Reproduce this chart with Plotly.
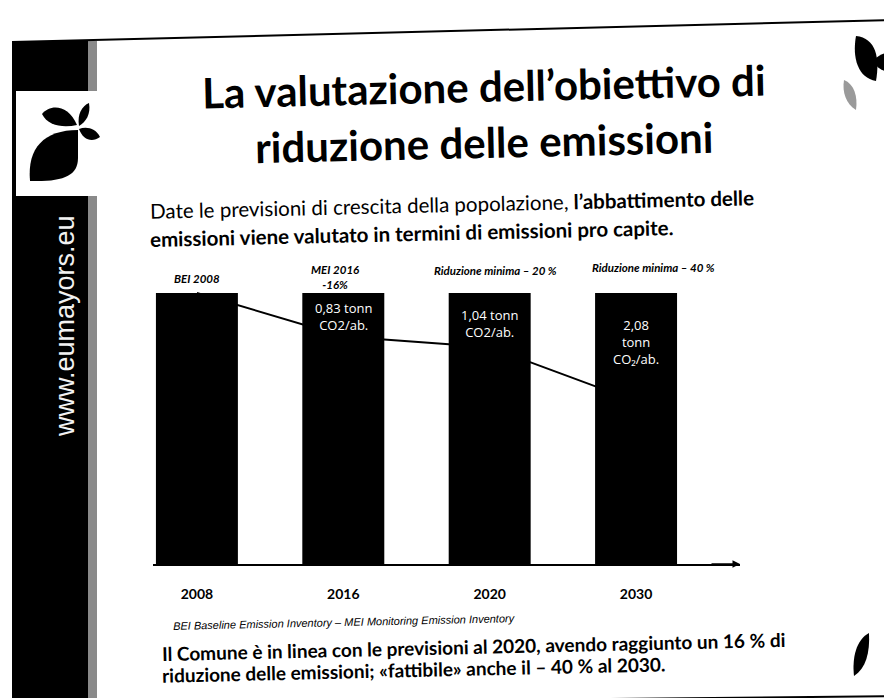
import plotly.graph_objects as go

# ---------------- data ----------------
categories = ["2008", "2016", "2020", "2030"]
bar_heights = [100, 100, 100, 100]          # all bars drawn at the same height
trend_index = [100, 84, 80, 60]             # per-capita emission trend (2008 = 100)
bar_headers = ["BEI 2008", "MEI 2016<br>-16%", "Riduzione minima – 20 %", "Riduzione minima – 40 %"]
bar_notes = ["", "0,83 tonn<br>CO2/ab.", "1,04 tonn<br>CO2/ab.", "2,08<br>tonn<br>CO₂/ab."]

# ---------------- geometry helpers ----------------
FW, FH = 892, 698
L, R, T, B = 145, 160, 210, 142
PW, PH = FW - L - R, FH - T - B
YMAX = 127.7
TILT = -1.3


def px(x, y):
    """pixel position on the page -> paper coords"""
    return (x - L) / PW, (FH - B - y) / PH


def pyv(y):
    return (FH - B - y) / PH * YMAX


fig = go.Figure()
fig.add_trace(go.Bar(x=categories, y=bar_heights, marker=dict(color="black", line=dict(width=0)),
                     width=0.56, hoverinfo="skip", showlegend=False))
fig.add_trace(go.Scatter(x=categories, y=trend_index, mode="lines",
                         line=dict(color="black", width=2), showlegend=False, hoverinfo="skip"))

ann = []


def text(x, y, s, size, color="black", family="Lato", weight="normal", style="normal",
         xanchor="center", yanchor="middle", align="center", angle=0):
    xp, yp = px(x, y)
    ann.append(dict(x=xp, y=yp, xref="paper", yref="paper", text=s, showarrow=False,
                    xanchor=xanchor, yanchor=yanchor, align=align, textangle=angle,
                    font=dict(size=size, color=color, family=family, weight=weight, style=style)))


# title
text(476, 78, "La valutazione dell’obiettivo di", 42, weight="bold", angle=TILT)
text(476, 134, "riduzione delle emissioni", 42, weight="bold", angle=TILT)
# subtitle
text(140, 196, "Date le previsioni di crescita della popolazione, <b>l’abbattimento delle</b>", 20.5,
     xanchor="left", align="left", angle=TILT)
text(140, 225, "<b>emissioni viene valutato in termini di emissioni pro capite.</b>", 20.5,
     xanchor="left", align="left", angle=TILT)

# headers above bars
hdr_y = [262, 253, 254, 251]
hdr_dx = [0, -8, 6, 17]
for i, (h, yy, dx) in enumerate(zip(bar_headers, hdr_y, hdr_dx)):
    ann.append(dict(x=i, xref="x", y=px(0, yy)[1], yref="paper", text=h, showarrow=False,
                    xshift=dx, font=dict(size=11.5, family="Lato", weight="bold", style="italic",
                                         color="black")))

# notes inside bars
note_top = [0, 289, 296, 306]
for i, (n, yy) in enumerate(zip(bar_notes, note_top)):
    if n:
        ann.append(dict(x=i, xref="x", y=pyv(yy), yref="y", text=n, showarrow=False,
                        yanchor="top", font=dict(size=13, family="Open Sans", color="white")))

# axis arrow
ann.append(dict(x=3.71, y=0, xref="x", yref="y", ax=-30, ay=0, showarrow=True, arrowhead=2,
                arrowsize=1, arrowwidth=1.5, arrowcolor="black", text=""))

# footnotes
text(163, 614, "BEI Baseline Emission Inventory – MEI Monitoring Emission Inventory", 11,
     family="Liberation Sans", style="italic", xanchor="left", align="left", angle=TILT)
text(152, 638, "<b>Il Comune è in linea con le previsioni al 2020, avendo raggiunto un 16 % di</b>", 19,
     xanchor="left", align="left", angle=TILT)
text(152, 661, "<b>riduzione delle emissioni; «fattibile» anche il – 40 % al 2030.</b>", 19,
     xanchor="left", align="left", angle=TILT)

# side url
text(57, 318, "www.eumayors.eu", 27, color="#f2f2f2", family="Liberation Sans", angle=-90)

shapes = []


def rect(x0, y0, x1, y1, color, layer="below"):
    a = px(x0, y0)
    b = px(x1, y1)
    shapes.append(dict(type="rect", xref="paper", yref="paper", x0=a[0], y0=a[1], x1=b[0], y1=b[1],
                       fillcolor=color, line=dict(width=0), layer=layer))


def line(x0, y0, x1, y1, width=2, color="black"):
    a = px(x0, y0)
    b = px(x1, y1)
    shapes.append(dict(type="line", xref="paper", yref="paper", x0=a[0], y0=a[1], x1=b[0], y1=b[1],
                       line=dict(color=color, width=width), layer="above"))


def path(pts_cmd, color="black", lw=0, lc="black"):
    s = ""
    for cmd, pts in pts_cmd:
        s += cmd
        s += " ".join("%.5f,%.5f" % px(x, y) for x, y in pts) + " "
    shapes.append(dict(type="path", xref="paper", yref="paper", path=s.strip(),
                       fillcolor=color, line=dict(width=lw, color=lc), layer="above"))


# left band
rect(4, 33, 80, 698, "black")
rect(80, 33, 89, 698, "#8a8a8a")
# logo box
rect(8, 83, 90, 188, "white", layer="above")
path([("M", [(22, 173)]), ("C", [(19, 140), (36, 122), (70, 122)]), ("L", [(70, 150)]),
      ("C", [(70, 168), (55, 174), (22, 173)]), ("Z", [])])
path([("M", [(34, 106)]), ("C", [(42, 96), (60, 96), (69, 117)]), ("C", [(55, 120), (40, 118), (34, 106)]),
      ("Z", [])])
path([("M", [(71, 118)]), ("C", [(69, 106), (74, 98), (81, 95)]), ("C", [(83, 106), (78, 114), (71, 118)]),
      ("Z", [])])
path([("M", [(71, 121)]), ("C", [(78, 118), (88, 120), (92, 129)]), ("C", [(84, 135), (75, 132), (71, 121)]),
      ("Z", [])])

# frame lines
line(4, 34, 887, 12, width=2)
line(887, 12, 887, 180, width=2)
line(205, 695, 892, 688, width=2)

# right top logo
path([("M", [(848, 28)]), ("C", [(868, 30), (872, 50), (868, 73)]), ("C", [(850, 70), (844, 50), (848, 28)]),
      ("Z", [])])
path([("M", [(866, 52)]), ("C", [(873, 44), (884, 43), (887, 46)]), ("L", [(887, 62)]),
      ("C", [(880, 66), (871, 62), (866, 55)]), ("Z", [])])
path([("M", [(836, 72)]), ("C", [(846, 76), (850, 88), (848, 102)]), ("C", [(838, 96), (834, 84), (836, 72)]),
      ("Z", [])], color="#9a9a9a")
# right bottom marks
path([("M", [(861, 625)]), ("C", [(848, 632), (844, 650), (846, 668)]), ("C", [(858, 660), (862, 645), (861, 625)]),
      ("Z", [])])
path([("M", [(881, 576)]), ("L", [(885, 576), (885, 600)]), ("C", [(886, 605), (890, 606), (892, 604)]),
      ("L", [(892, 612)]), ("C", [(885, 613), (881, 608), (881, 600)]), ("Z", [])])

fig.update_layout(
    width=FW, height=FH, margin=dict(l=L, r=R, t=T, b=B),
    paper_bgcolor="white", plot_bgcolor="white",
    annotations=ann, shapes=shapes, showlegend=False,
    xaxis=dict(type="category", range=[-0.3, 3.71], showgrid=False, zeroline=False,
               showline=True, linecolor="black", linewidth=1.5, ticks="outside", ticklen=16,
               tickcolor="rgba(0,0,0,0)",
               tickfont=dict(size=14, family="Lato", weight="bold", color="black")),
    yaxis=dict(range=[0, YMAX], visible=False, showgrid=False, zeroline=False),
)

fig.write_html("out.html")
